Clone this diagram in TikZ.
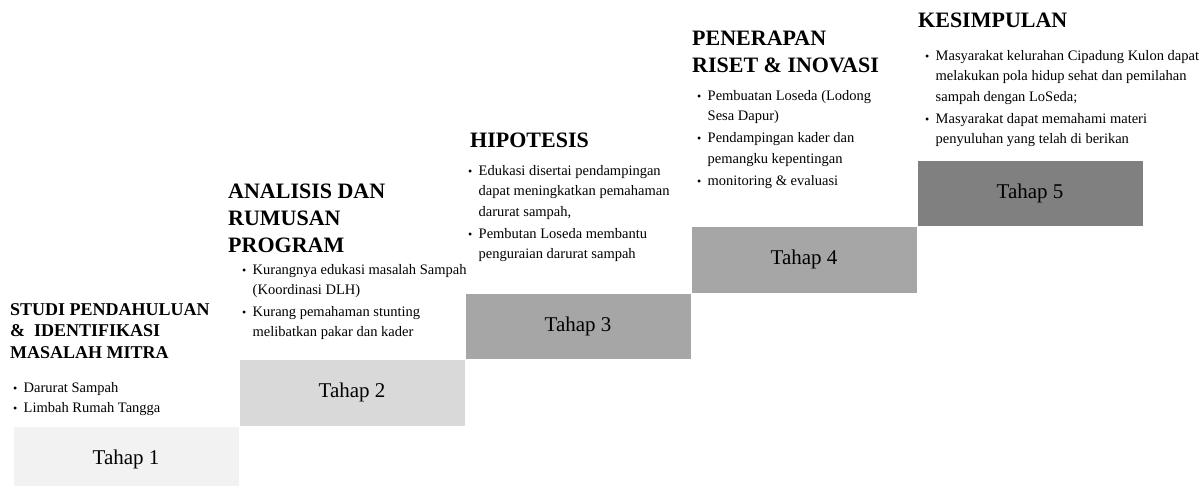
\documentclass[tikz,border=0pt]{standalone}
\usepackage{fontspec}
\setmainfont{LiberationSerif}[Extension=.ttf, UprightFont=*-Regular, BoldFont=*-Bold, ItalicFont=*-Italic, BoldItalicFont=*-BoldItalic]
\usetikzlibrary{positioning}
\newcommand{\bul}{\makebox[10.5pt][l]{\fontsize{12}{12}\selectfont\textbullet}}
\newcommand{\ind}{\hspace*{10.5pt}}

\begin{document}
\begin{tikzpicture}[x=1pt,y=1pt,
	tahap/.style={minimum width=226pt, minimum height=66.5pt, inner sep=0pt, outer sep=0pt, draw=white, line width=0.8pt, font=\fontsize{21}{25}\selectfont},
	judul/.style={anchor=north west, inner sep=0pt, align=left, font=\bfseries\fontsize{22}{27}\selectfont},
	poin/.style={anchor=north west, inner sep=0pt, align=left, font=\fontsize{14.5}{20.5}\selectfont}]
	\useasboundingbox (0,0) rectangle (1202,485);
	% anak tangga
	\node[tahap, fill=black!5, anchor=north west] (t1) at (13,59) {Tahap 1};%1
	\node[tahap, fill=black!15, above right=0pt and 0pt of t1] (t2) {Tahap 2};%2
	\node[tahap, fill=black!35, above right=0pt and 0pt of t2] (t3) {Tahap 3};%3
	\node[tahap, fill=black!35, above right=0pt and 0pt of t3] (t4) {Tahap 4};%4
	\node[tahap, fill=black!50, above right=0pt and 0pt of t4] (t5) {Tahap 5};%5
	% judul tiap tahap
	\node[judul, font=\bfseries\fontsize{18}{21.5}\selectfont] (j1) at (10,182) {STUDI PENDAHULUAN\\\& \ IDENTIFIKASI\\MASALAH MITRA};%1
	\node[judul] (j2) at (228,301.5) {ANALISIS DAN\\RUMUSAN\\PROGRAM};%2
	\node[judul] (j3) at (470,352.5) {HIPOTESIS};%3
	\node[judul] (j4) at (692,454.5) {PENERAPAN\\RISET \& INOVASI};%4
	\node[judul] (j5) at (918,472.5) {KESIMPULAN};%5
	% isi tiap tahap
	\node[poin] (p1) at (13,103) {\bul Darurat Sampah\\\bul Limbah Rumah Tangga};%1
	\node[poin] (p2) at (242,221) {\bul Kurangnya edukasi masalah Sampah\\\ind(Koordinasi DLH)\\[1pt]
		\bul Kurang pemahaman stunting\\\ind melibatkan pakar dan kader};%2
	\node[poin] (p3) at (468,320) {\bul Edukasi disertai pendampingan\\\ind dapat meningkatkan pemahaman\\\ind darurat sampah,\\[1.5pt]
		\bul Pembutan Loseda membantu\\\ind penguraian darurat sampah};%3
	\node[poin] (p4) at (697,395) {\bul Pembuatan Loseda (Lodong\\\ind Sesa Dapur)\\[1.5pt]
		\bul Pendampingan kader dan\\\ind pemangku kepentingan\\[1.5pt]
		\bul monitoring \& evaluasi};%4
	\node[poin] (p5) at (925,435) {\bul Masyarakat kelurahan Cipadung Kulon dapat\\\ind melakukan pola hidup sehat dan pemilahan\\\ind sampah dengan LoSeda;\\[1.5pt]
		\bul Masyarakat dapat memahami materi\\\ind penyuluhan yang telah di berikan};%5
\end{tikzpicture}
\end{document}
